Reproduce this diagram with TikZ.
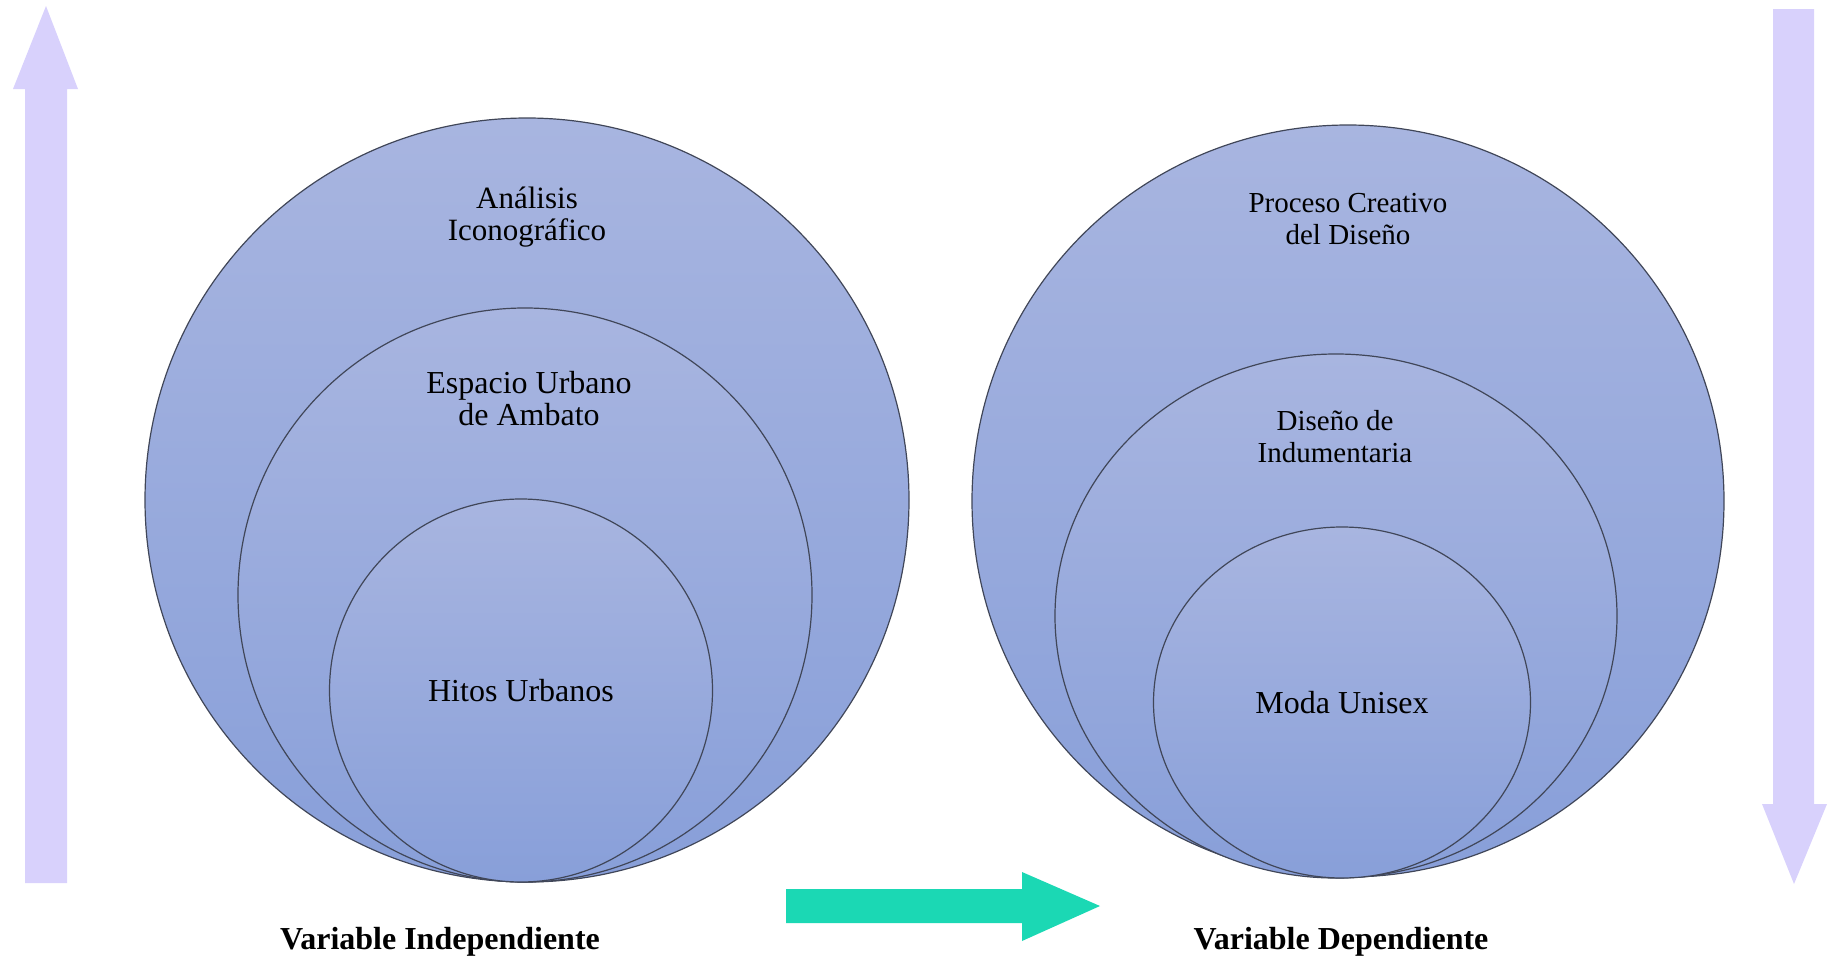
\documentclass[tikz,border=0pt]{standalone}
\usepackage{fontspec}
\setmainfont{Liberation Serif}
\definecolor{lav}{RGB}{216,209,252}
\definecolor{teal}{RGB}{27,216,180}
\definecolor{ctop}{RGB}{168,181,224}
\definecolor{cbot}{RGB}{136,159,217}
\definecolor{edge}{RGB}{64,70,88}
\begin{document}
\begin{tikzpicture}[x=0.5pt,y=-0.5pt,
  bub/.style={draw=edge,line width=0.6pt,top color=ctop,bottom color=cbot},
  lbl/.style={align=center,inner sep=0pt,font=\fontsize{#1}{16}\selectfont},
  lbl/.default=15.5,
  var/.style={inner sep=0pt,font=\fontsize{16}{18}\selectfont\bfseries}]
\useasboundingbox (0,0) rectangle (1832,958);
% vertical arrows
\fill[lav] (25,883) -- (25,89) -- (13,89) -- (46,6) -- (78,89) -- (67,89) -- (67,883) -- cycle;
\fill[lav] (1773,9) -- (1814,9) -- (1814,804) -- (1827,804) -- (1794,884) -- (1762,804) -- (1773,804) -- cycle;
% horizontal arrow
\fill[teal] (786,889) -- (1022,889) -- (1022,872) -- (1100,906) -- (1022,941) -- (1022,923) -- (786,923) -- cycle;
% left circles
\path[bub] (527,500) circle[x radius=191pt,y radius=191pt];
\path[bub] (525,595) circle[x radius=143.5pt,y radius=143.5pt];
\path[bub] (521,690.5) circle[x radius=95.75pt,y radius=95.75pt];
% right circles
\path[bub] (1348,501) circle[x radius=188pt,y radius=188pt];
\path[bub] (1336,616) circle[x radius=140.5pt,y radius=131pt];
\path[bub] (1342,702.5) circle[x radius=94.25pt,y radius=87.75pt];
% labels
\node[lbl=15.5] (ai) at (527,217) {Análisis\\Iconográfico};
\node[lbl=16] (eu) at (529,399) {Espacio Urbano\\de Ambato};
\node[lbl=16] (hu) at (521,691) {Hitos Urbanos};
\node[lbl=14.5] (pc) at (1348,219) {Proceso Creativo\\del Diseño};
\node[lbl=14.5] (di) at (1335,437) {Diseño de\\Indumentaria};
\node[lbl=16] (mu) at (1342,703) {Moda Unisex};
\node[var] (vi) at (440,942) {Variable Independiente};
\node[var] (vd) at (1341,942) {Variable Dependiente};
\end{tikzpicture}
\end{document}
